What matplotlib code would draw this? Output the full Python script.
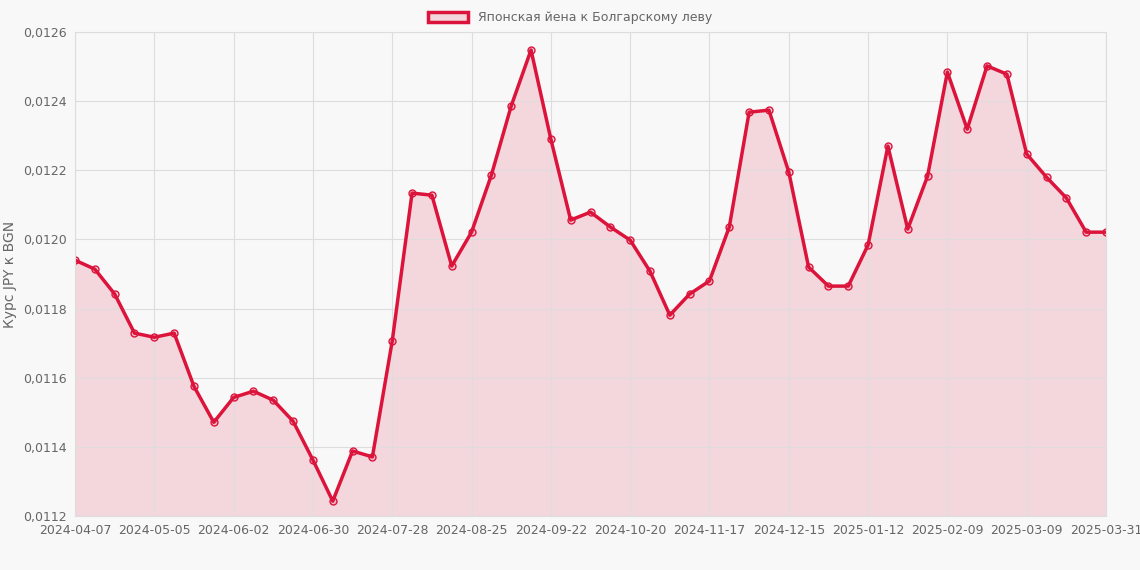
import matplotlib.pyplot as plt
import matplotlib.patches as mpatches

valores = [0.011940, 0.011914, 0.011842, 0.011729, 0.011717, 0.011729, 0.011575, 0.011471,
           0.011543, 0.011561, 0.011535, 0.011474, 0.011362, 0.011243, 0.011388, 0.011371,
           0.011706, 0.012134, 0.012128, 0.011923, 0.012021, 0.012186, 0.012386, 0.012548,
           0.012290, 0.012056, 0.012079, 0.012036, 0.011998, 0.011908, 0.011781, 0.011842,
           0.011880, 0.012036, 0.012368, 0.012374, 0.012195, 0.011920, 0.011865, 0.011865,
           0.011984, 0.012270, 0.012030, 0.012183, 0.012484, 0.012319, 0.012502, 0.012478,
           0.012247, 0.012180, 0.012120, 0.012021, 0.012021]
tick_pos = [0, 4, 8, 12, 16, 20, 24, 28, 32, 36, 40, 44, 48, 52]
tick_labels = ['2024-04-07', '2024-05-05', '2024-06-02', '2024-06-30', '2024-07-28',
               '2024-08-25', '2024-09-22', '2024-10-20', '2024-11-17', '2024-12-15',
               '2025-01-12', '2025-02-09', '2025-03-09', '2025-03-31']
color = '#dc143c'
x = list(range(len(valores)))

fig = plt.figure(figsize=(11.4, 5.7), dpi=100, facecolor='#f8f8f8')
ax = fig.add_axes([75/1140, 1-516/570, (1106-75)/1140, (516-32)/570])
ax.set_facecolor('#f8f8f8')
ax.fill_between(x, valores, 0.0112, color=color, alpha=0.14, linewidth=0)
ax.plot(x, valores, color=color, linewidth=2.5, marker='o', markersize=5,
        markerfacecolor=(0.86, 0.08, 0.24, 0.15), markeredgecolor=color, markeredgewidth=1)
ax.set_xlim(0, 52)
ax.set_ylim(0.0112, 0.0126)
ax.set_yticks([0.0112 + 0.0002 * i for i in range(8)])
ax.set_yticklabels([f'{0.0112 + 0.0002 * i:.4f}'.replace('.', ',') for i in range(8)])
ax.set_xticks(tick_pos)
ax.set_xticklabels(tick_labels)
ax.tick_params(colors='#666666', labelsize=9, length=0, pad=6)
ax.grid(True, color='#dddddd', linewidth=0.8)
for s in ax.spines.values():
    s.set_color('#dddddd')
ax.set_ylabel('Курс JPY к BGN', color='#666666', fontsize=10)
patch = mpatches.Patch(facecolor=(0.86, 0.08, 0.24, 0.15), edgecolor=color, linewidth=2.5,
                       label='Японская йена к Болгарскому леву')
fig.legend(handles=[patch], loc='upper center', bbox_to_anchor=(0.5, 1.0), frameon=False,
           fontsize=9, labelcolor='#666666', handlelength=3.2, handleheight=0.9)
fig.savefig('out.png', dpi=100, facecolor=fig.get_facecolor())
